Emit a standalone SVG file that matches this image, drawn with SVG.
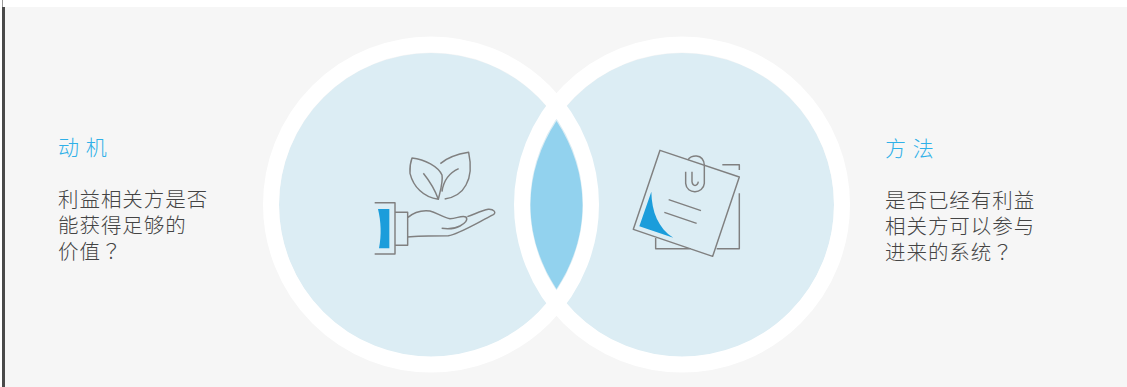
<svg xmlns="http://www.w3.org/2000/svg" width="1127" height="387" viewBox="0 0 1127 387">
<style>
.t{font-family:"Liberation Sans","Noto Sans CJK SC",sans-serif;font-size:20.5px;font-weight:300;fill:#444;letter-spacing:.95px}
.h{font-size:21px;fill:#2fb0e8;letter-spacing:.5px}
.q{font-family:"Liberation Sans","Noto Sans CJK TC",sans-serif}
.i{fill:none;stroke:#808080;stroke-width:4.4;stroke-linejoin:round}
.b{fill:#1b9ddb}
</style>
<rect width="1127" height="387" fill="#fff"/>
<rect x="3" y="7" width="1124" height="380" fill="#f6f6f6"/>
<rect x="2" y="7" width="3" height="380" fill="#4a4a4a"/>
<rect x="2" y="0" width="1" height="7" fill="#999"/>
<g id="venn">
<circle cx="431" cy="205" r="152" fill="#dcedf4"/>
<circle cx="682" cy="205" r="152" fill="#dcedf4"/>
<circle cx="431" cy="204.500" r="160" fill="none" stroke="#fff" stroke-width="16"/>
<circle cx="682" cy="204.500" r="160" fill="none" stroke="#fff" stroke-width="16"/>
<path d="M556.500 121C540 146 530.500 175 530.500 205C530.500 235 540 264 556.500 289C573 264 582.500 235 582.500 205C582.500 175 573 146 556.500 121Z" fill="#92d2ee"/>
</g>
<g id="motive">
<text class="t h" x="58" y="155">动 机</text>
<text class="t" x="58" y="207">利益相关方是否</text>
<text class="t" x="58" y="233">能获得足够的</text>
<text class="t" x="58" y="259">价值<tspan class="q">？</tspan></text>
</g>
<g id="method">
<text class="t h" x="885" y="156">方 法</text>
<text class="t" x="885" y="208">是否已经有利益</text>
<text class="t" x="885" y="234">相关方可以参与</text>
<text class="t" x="885" y="260">进来的系统<tspan class="q">？</tspan></text>
</g>
<g id="hand" transform="translate(360 140) scale(.3333)">
<path class="i" d="M235 178C190 172 160 140 150 100C149 85 152 65 156 54C195 58 235 80 246 105C250 125 240 155 235 178ZM190 100C210 125 225 150 235 178M241 71C265 50 295 42 326 37C333 70 335 105 318 135C305 160 280 173 254 177M296 86C265 100 250 125 246 155"/>
<path class="i" d="M44 188H105V342H44M105 217H143V316H105M143 233C160 218 185 210 210 213C230 217 245 232 270 236C290 236 305 225 318 231C325 240 315 250 300 258C285 266 265 268 245 265M143 291C175 287 220 287 265 287C290 285 340 255 400 224C410 218 402 207 385 208C365 212 345 222 322 230"/>
<path class="b" d="M54 207H88V325H57C65 285 63 245 54 207Z"/>
</g>
<g id="note" transform="translate(620 140) scale(.3333)">
<path class="i" d="M120 31L358 111L278 349L40 268ZM307 74H358V90M358 160V326H290M213 326H107V294"/>
<path class="i" d="M204 60C210 45 250 38 253 75V130C250 162 200 165 197 130V95M216 95V125C218 140 232 140 235 125"/>
<path class="i" d="M146 179L243 212M133 217L230 250"/>
<path class="b" d="M94 155C95 215 115 265 160 293L58 259Z"/>
</g>
</svg>
